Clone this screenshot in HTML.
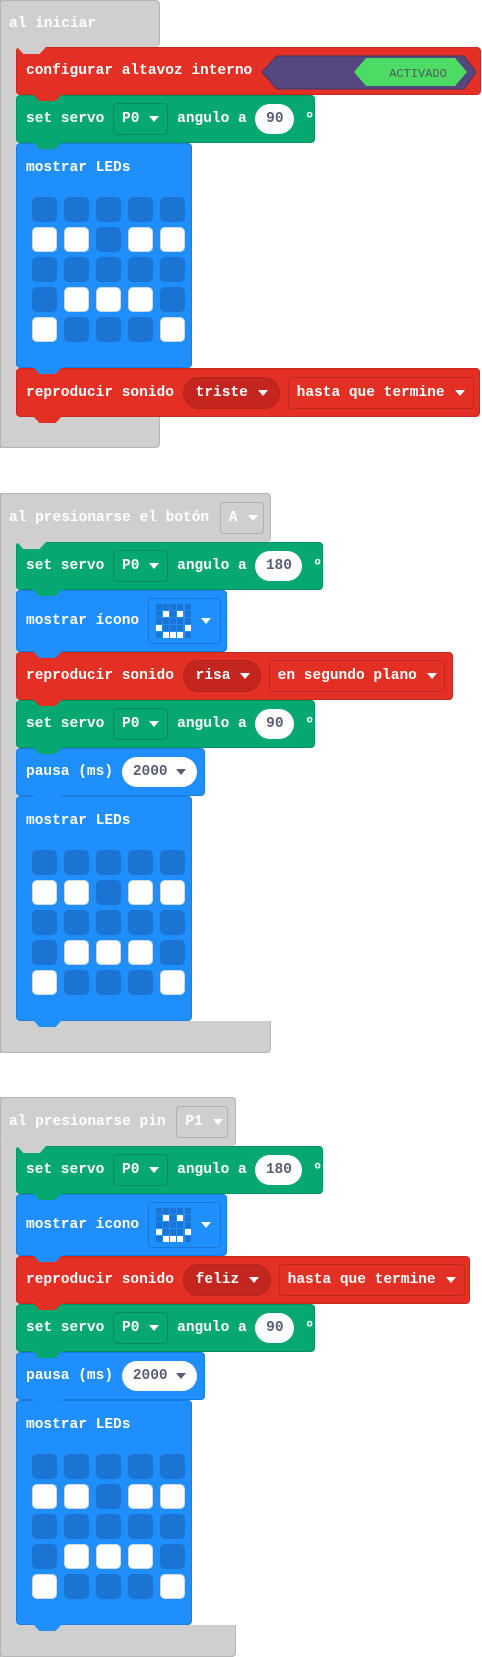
<!DOCTYPE html>
<html><head><meta charset="utf-8"><style>
body{margin:0;width:482px;height:1657px;background:#fff;position:relative;overflow:hidden;font-family:"Liberation Mono",monospace;font-weight:bold;font-size:14.5px;color:#fff}
.b{position:absolute;box-sizing:border-box;border-radius:4px;display:flex;align-items:center;padding-left:9px;white-space:pre}
.b::after{content:"";position:absolute;left:16px;bottom:-7px;width:29px;height:7px;background:inherit;clip-path:polygon(0 0,100% 0,78% 100%,22% 100%);z-index:5}
.gr{background:#cfcfcf;border:1px solid #b5b5b5;color:#fff}
.r{background:#e32f24;border:1px solid #c42a20}
.g{background:#05a870;border:1px solid #04935f}
.bl{background:#1f8fff;border:1px solid #1a7ee0}
.gp{position:absolute;background:#cfcfcf;box-sizing:border-box}
.dd{display:inline-flex;align-items:center;height:32px;box-sizing:border-box;border-radius:4px;padding:0 8px;gap:10px}
.dg{border:1px solid #048a5c}
.dgr{border:1px solid #b0b0b0}
.dr{border:1px solid #c0281f;margin-left:8px}
.pillr{background:#c4261f;border-radius:16px;border:1px solid #b0241c}
.tri{width:0;height:0;border-left:5px solid transparent;border-right:5px solid transparent;border-top:6px solid #fff}
.oval{display:inline-flex;align-items:center;justify-content:center;background:#fff;color:#575e75;height:30px;border-radius:15px}
.oval .tri{border-top-color:#575e75}
.deg{margin-left:11px}
.leds{position:absolute;left:15px;top:53px;display:grid;grid-template-columns:repeat(5,25px);grid-auto-rows:25px;column-gap:7px;row-gap:5px}
.leds div{background:#1b74d2;border-radius:5px}
.leds .w{background:#fff;border:1px solid #d0d8e0;box-sizing:border-box}
.icon{display:inline-flex;align-items:center;gap:10px;height:46px;box-sizing:border-box;border:1px solid #1a76d6;border-radius:4px;padding:0 9px 0 7px}
.mini{display:grid;grid-template-columns:repeat(5,6px);grid-auto-rows:6px;gap:1.2px}
.mini div{background:#1b74d2}.mini .w{background:#fff}
</style></head><body>

<!-- GROUP 1 -->
<div class="gp" style="left:0;top:0;width:17px;height:448px;border-left:1px solid #b5b5b5"></div>
<div class="b gr" style="left:0;top:0;width:160px;height:47px;padding-left:8px;border-bottom:none">al iniciar</div>
<div class="gp" style="left:0;top:417px;width:160px;height:31px;border:1px solid #b5b5b5;border-top:none;border-radius:0 0 4px 4px"></div>

<div class="b r" style="left:16px;top:47px;width:465px;height:48px">configurar altavoz interno
<svg style="position:absolute;left:245px;top:7px" width="215" height="35"><polygon points="0,17 15,1 202,1 214,17 202,34 15,34" fill="#554880" stroke="#3f3566"/><polygon points="92,17 104,3 193,3 205,17 193,31 104,31" fill="#4cdc63"/><text x="156" y="22" text-anchor="middle" font-family="Liberation Mono,monospace" font-size="12" font-weight="normal" fill="#4b5a5a">ACTIVADO</text></svg></div>

<div class="b g" style="left:16px;top:95px;width:299px;height:48px">set servo <span class="dd dg">P0<span class="tri"></span></span> angulo a <span class="oval" style="width:39px">90</span><span class="deg">º</span></div>

<div class="b bl" style="left:16px;top:143px;width:176px;height:225px;align-items:flex-start;padding-top:16px">mostrar LEDs
<div class="leds"><div></div><div></div><div></div><div></div><div></div><div class="w"></div><div class="w"></div><div></div><div class="w"></div><div class="w"></div><div></div><div></div><div></div><div></div><div></div><div></div><div class="w"></div><div class="w"></div><div class="w"></div><div></div><div class="w"></div><div></div><div></div><div></div><div class="w"></div></div></div>

<div class="b r" style="left:16px;top:368px;width:464px;height:49px">reproducir sonido <span class="dd pillr" style="width:97px;padding-left:12px">triste<span class="tri"></span></span><span class="dd dr" style="width:186px">hasta que termine<span class="tri"></span></span></div>

<!-- GROUP 2 -->
<div class="gp" style="left:0;top:493px;width:17px;height:560px;border-left:1px solid #b5b5b5"></div>
<div class="b gr" style="left:0;top:493px;width:271px;height:49px;padding-left:8px;border-bottom:none">al presionarse el botón <span class="dd dgr" style="width:44px;margin-left:2px">A<span class="tri"></span></span></div>
<div class="gp" style="left:0;top:1021px;width:271px;height:32px;border:1px solid #b5b5b5;border-top:none;border-radius:0 0 4px 4px"></div>

<div class="b g" style="left:16px;top:542px;width:307px;height:48px">set servo <span class="dd dg">P0<span class="tri"></span></span> angulo a <span class="oval" style="width:47px">180</span><span class="deg">º</span></div>
<div class="b bl" style="left:16px;top:590px;width:211px;height:62px">mostrar ícono <span class="icon"><span class="mini"><div></div><div></div><div></div><div></div><div></div><div></div><div class="w"></div><div></div><div class="w"></div><div></div><div></div><div></div><div></div><div></div><div></div><div class="w"></div><div></div><div></div><div></div><div class="w"></div><div></div><div class="w"></div><div class="w"></div><div class="w"></div><div></div></span><span class="tri"></span></span></div>
<div class="b r" style="left:16px;top:652px;width:437px;height:48px">reproducir sonido <span class="dd pillr" style="width:78px;padding-left:12px">risa<span class="tri"></span></span><span class="dd dr" style="width:176px">en segundo plano<span class="tri"></span></span></div>
<div class="b g" style="left:16px;top:700px;width:299px;height:48px">set servo <span class="dd dg">P0<span class="tri"></span></span> angulo a <span class="oval" style="width:39px">90</span><span class="deg">º</span></div>
<div class="b bl" style="left:16px;top:748px;width:189px;height:48px">pausa (ms) <span class="oval" style="width:75px;gap:8px">2000<span class="tri"></span></span></div>
<div class="b bl" style="left:16px;top:796px;width:176px;height:225px;align-items:flex-start;padding-top:16px">mostrar LEDs
<div class="leds"><div></div><div></div><div></div><div></div><div></div><div class="w"></div><div class="w"></div><div></div><div class="w"></div><div class="w"></div><div></div><div></div><div></div><div></div><div></div><div></div><div class="w"></div><div class="w"></div><div class="w"></div><div></div><div class="w"></div><div></div><div></div><div></div><div class="w"></div></div></div>

<!-- GROUP 3 -->
<div class="gp" style="left:0;top:1097px;width:17px;height:560px;border-left:1px solid #b5b5b5"></div>
<div class="b gr" style="left:0;top:1097px;width:236px;height:49px;padding-left:8px;border-bottom:none">al presionarse pin <span class="dd dgr" style="width:52px;margin-left:2px">P1<span class="tri"></span></span></div>
<div class="gp" style="left:0;top:1625px;width:236px;height:32px;border:1px solid #b5b5b5;border-top:none;border-radius:0 0 4px 4px"></div>

<div class="b g" style="left:16px;top:1146px;width:307px;height:48px">set servo <span class="dd dg">P0<span class="tri"></span></span> angulo a <span class="oval" style="width:47px">180</span><span class="deg">º</span></div>
<div class="b bl" style="left:16px;top:1194px;width:211px;height:62px">mostrar ícono <span class="icon"><span class="mini"><div></div><div></div><div></div><div></div><div></div><div></div><div class="w"></div><div></div><div class="w"></div><div></div><div></div><div></div><div></div><div></div><div></div><div class="w"></div><div></div><div></div><div></div><div class="w"></div><div></div><div class="w"></div><div class="w"></div><div class="w"></div><div></div></span><span class="tri"></span></span></div>
<div class="b r" style="left:16px;top:1256px;width:454px;height:48px">reproducir sonido <span class="dd pillr" style="width:88px;padding-left:12px">feliz<span class="tri"></span></span><span class="dd dr" style="width:186px">hasta que termine<span class="tri"></span></span></div>
<div class="b g" style="left:16px;top:1304px;width:299px;height:48px">set servo <span class="dd dg">P0<span class="tri"></span></span> angulo a <span class="oval" style="width:39px">90</span><span class="deg">º</span></div>
<div class="b bl" style="left:16px;top:1352px;width:189px;height:48px">pausa (ms) <span class="oval" style="width:75px;gap:8px">2000<span class="tri"></span></span></div>
<div class="b bl" style="left:16px;top:1400px;width:176px;height:225px;align-items:flex-start;padding-top:16px">mostrar LEDs
<div class="leds"><div></div><div></div><div></div><div></div><div></div><div class="w"></div><div class="w"></div><div></div><div class="w"></div><div class="w"></div><div></div><div></div><div></div><div></div><div></div><div></div><div class="w"></div><div class="w"></div><div class="w"></div><div></div><div class="w"></div><div></div><div></div><div></div><div class="w"></div></div></div>

</body></html>
